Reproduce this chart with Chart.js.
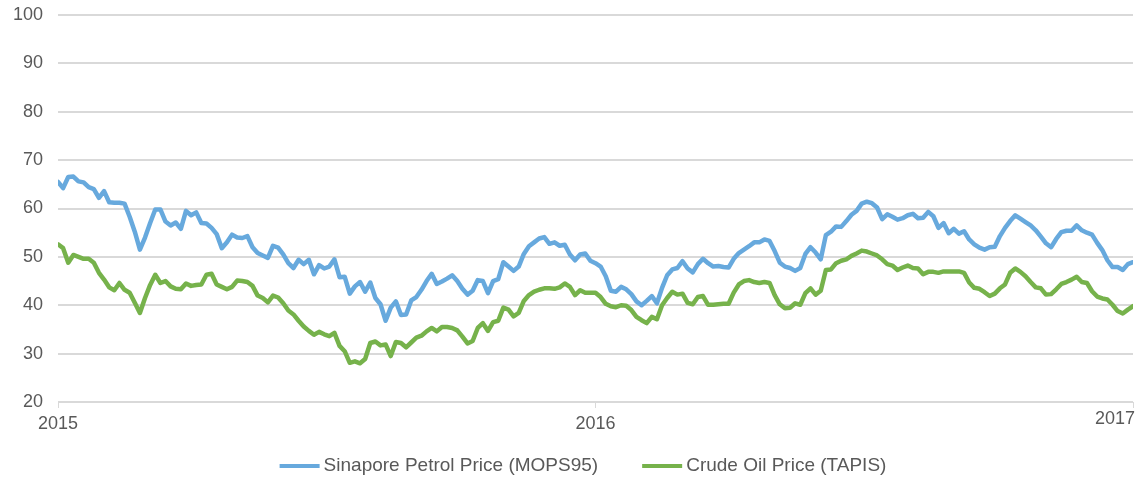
<!DOCTYPE html>
<html>
<head>
<meta charset="utf-8">
<script src="https://cdn.jsdelivr.net/npm/chart.js@4/dist/chart.umd.min.js"></script>
<style>
  html, body { margin: 0; padding: 0; background: #fff; }
  #wrap { width: 1137px; height: 483px; }
</style>
</head>
<body>
<div id="wrap"><canvas id="chart"></canvas></div>
<script>
// half-weekly readings, 2015-01 .. 2017-01 (105 steps per year)
var stepsPerYear = 105;
var yearTicks = [2015, 2016, 2017];
var yTicks = [20, 30, 40, 50, 60, 70, 80, 90, 100];

var petrolLabel = 'Sinapore Petrol Price (MOPS95)';
var crudeLabel = 'Crude Oil Price (TAPIS)';

var petrol = [
    65.5, 64.2, 66.5, 66.6, 65.6, 65.4, 64.4, 64.0, 62.2, 63.6,
    61.3, 61.2, 61.2, 61.0, 58.3, 55.2, 51.5, 54.0, 57.0, 59.8,
    59.8, 57.3, 56.5, 57.1, 55.8, 59.5, 58.6, 59.2, 57.0, 56.9,
    56.0, 54.7, 51.8, 53.0, 54.6, 54.0, 53.9, 54.3, 52.0, 50.8,
    50.3, 49.8, 52.3, 51.9, 50.5, 48.7, 47.7, 49.4, 48.5, 49.4,
    46.4, 48.3, 47.6, 48.0, 49.5, 45.8, 45.9, 42.4, 43.9, 44.8,
    42.8, 44.7, 41.5, 40.2, 36.8, 39.5, 40.8, 38.0, 38.1, 41.0,
    41.7, 43.2, 45.0, 46.5, 44.4, 44.9, 45.5, 46.2, 45.0, 43.4,
    42.2, 43.0, 45.2, 45.0, 42.5, 45.0, 45.4, 48.9, 48.0, 47.1,
    48.0, 50.6, 52.2, 53.0, 53.8, 54.1, 52.7, 53.0, 52.3, 52.5,
    50.5, 49.3, 50.5, 50.7, 49.2, 48.7, 48.0, 46.0, 43.0, 42.8,
    43.8, 43.3, 42.3, 40.8, 40.0, 40.9, 41.9, 40.4, 43.6, 46.2,
    47.4, 47.7, 49.1, 47.6, 46.8, 48.5, 49.6, 48.7, 48.0, 48.1,
    47.9, 47.8, 49.6, 50.8, 51.5, 52.2, 53.0, 53.0, 53.6, 53.3,
    51.2, 48.8, 48.0, 47.7, 47.1, 47.7, 50.6, 52.0, 50.9, 49.5,
    54.5, 55.2, 56.3, 56.2, 57.4, 58.7, 59.5, 61.0, 61.4, 61.1,
    60.2, 57.8, 58.8, 58.3, 57.7, 58.0, 58.6, 58.9, 58.0, 58.1,
    59.3, 58.4, 56.0, 57.0, 54.9, 55.8, 54.8, 55.3, 53.6, 52.6,
    51.9, 51.5, 52.0, 52.1, 54.3, 56.0, 57.4, 58.6, 57.9, 57.2,
    56.5, 55.5, 54.2, 52.8, 52.0, 53.7, 55.1, 55.4, 55.4, 56.5,
    55.5, 55.0, 54.6, 52.9, 51.4, 49.3, 47.9, 47.9, 47.3, 48.5,
    48.9
];

var crude = [
    52.6, 51.8, 48.8, 50.4, 50.0, 49.6, 49.6, 48.8, 46.7, 45.3,
    43.7, 43.1, 44.6, 43.2, 42.6, 40.5, 38.4, 41.5, 44.2, 46.3,
    44.6, 45.0, 43.9, 43.4, 43.3, 44.5, 44.0, 44.2, 44.3, 46.3,
    46.5, 44.3, 43.8, 43.3, 43.8, 45.1, 45.0, 44.8, 44.0, 42.0,
    41.5, 40.6, 42.0, 41.6, 40.4, 38.9, 38.1, 36.8, 35.6, 34.7,
    33.9, 34.5, 34.0, 33.6, 34.3, 31.6, 30.5, 28.1, 28.4, 28.0,
    28.9, 32.2, 32.5, 31.7, 31.9, 29.5, 32.4, 32.2, 31.3, 32.3,
    33.3, 33.7, 34.6, 35.3, 34.6, 35.5, 35.5, 35.3, 34.8, 33.5,
    32.1, 32.6, 35.3, 36.3, 34.7, 36.5, 36.8, 39.5, 39.1, 37.7,
    38.4, 40.9, 42.1, 42.8, 43.2, 43.5, 43.5, 43.4, 43.7, 44.5,
    43.8, 42.1, 43.1, 42.6, 42.6, 42.6, 41.7, 40.3, 39.8, 39.6,
    40.0, 39.9, 39.0, 37.6, 36.9, 36.3, 37.6, 37.1, 40.0, 41.5,
    42.8, 42.2, 42.4, 40.5, 40.2, 41.7, 41.9, 40.1, 40.1, 40.2,
    40.3, 40.3, 42.6, 44.3, 45.0, 45.2, 44.8, 44.6, 44.8, 44.6,
    42.1, 40.2, 39.4, 39.5, 40.4, 40.1, 42.5, 43.5, 42.2, 43.0,
    47.3, 47.4, 48.7, 49.2, 49.5, 50.2, 50.7, 51.3, 51.1, 50.7,
    50.3, 49.5, 48.5, 48.2, 47.3, 47.8, 48.2, 47.7, 47.6, 46.4,
    46.9, 46.9, 46.7, 47.0, 47.0, 47.0, 47.0, 46.7, 44.7, 43.6,
    43.4, 42.7, 41.9, 42.4, 43.5, 44.3, 46.7, 47.6, 46.9, 46.0,
    44.8, 43.7, 43.5, 42.2, 42.3, 43.3, 44.4, 44.8, 45.3, 45.9,
    44.8, 44.6, 42.9, 41.8, 41.4, 41.2, 40.1, 38.8, 38.3, 39.1,
    39.8
];

var petrolColor = '#67a9dd';
var crudeColor = '#76b24b';
var textColor = '#595959';
var gridColor = '#d9d9d9';
var fontFamily = "'Liberation Sans', Arial, sans-serif";

function toPoints(values) {
    return values.map(function (v, i) {
        return { x: yearTicks[0] + i / stepsPerYear, y: v };
    });
}

// x labels: Excel keeps the last one inside the plot edge
var xLabelsPlugin = {
    id: 'xLabels',
    afterDraw: function (chart) {
        var ctx = chart.ctx;
        var sx = chart.scales.x;
        ctx.save();
        ctx.font = '18px ' + fontFamily;
        ctx.fillStyle = textColor;
        ctx.textBaseline = 'middle';
        yearTicks.forEach(function (yr, i) {
            var px = sx.getPixelForValue(yr);
            var last = i === yearTicks.length - 1;
            ctx.textAlign = last ? 'right' : 'center';
            ctx.fillText(String(yr), last ? px + 2 : px, last ? 419 : 424);
        });
        ctx.restore();
    }
};

var legendPlugin = {
    id: 'lineLegend',
    afterDraw: function (chart) {
        var ctx = chart.ctx;
        var sw = 40, gap = 4, between = 44, y = 466;
        ctx.save();
        ctx.font = '19px ' + fontFamily;
        ctx.textBaseline = 'middle';
        ctx.textAlign = 'left';
        var items = chart.data.datasets.map(function (ds) {
            return { text: ds.label, color: ds.borderColor, w: ctx.measureText(ds.label).width };
        });
        var total = 0;
        items.forEach(function (it, i) { total += sw + gap + it.w + (i ? between : 0); });
        var x = 583 - total / 2;
        items.forEach(function (it) {
            ctx.strokeStyle = it.color;
            ctx.lineWidth = 4;
            ctx.beginPath();
            ctx.moveTo(x, y);
            ctx.lineTo(x + sw, y);
            ctx.stroke();
            ctx.fillStyle = textColor;
            ctx.fillText(it.text, x + sw + gap, y);
            x += sw + gap + it.w + between;
        });
        ctx.restore();
    }
};

new Chart(document.getElementById('chart'), {
    type: 'line',
    data: {
        datasets: [
            { label: petrolLabel, data: toPoints(petrol), borderColor: petrolColor, backgroundColor: petrolColor },
            { label: crudeLabel, data: toPoints(crude), borderColor: crudeColor, backgroundColor: crudeColor }
        ]
    },
    options: {
        responsive: true,
        maintainAspectRatio: false,
        animation: false,
        devicePixelRatio: 1,
        layout: { padding: { top: 15, right: 4, bottom: 81, left: 0 } },
        elements: {
            point: { radius: 0, hoverRadius: 0 },
            line: { borderWidth: 4.5, tension: 0, borderJoinStyle: 'round', borderCapStyle: 'round' }
        },
        plugins: {
            legend: { display: false },
            tooltip: { enabled: false }
        },
        scales: {
            x: {
                type: 'linear',
                min: yearTicks[0],
                max: yearTicks[yearTicks.length - 1],
                border: { display: false },
                grid: { drawOnChartArea: false, drawTicks: true, tickLength: 6, color: gridColor, lineWidth: 1 },
                ticks: { display: false, stepSize: 1 },
                afterFit: function (s) { s.height = 0; s.paddingLeft = 0; s.paddingRight = 0; }
            },
            y: {
                min: yTicks[0],
                max: yTicks[yTicks.length - 1],
                border: { display: false },
                grid: { color: gridColor, lineWidth: 2, drawTicks: false },
                ticks: {
                    stepSize: 10,
                    padding: 15,
                    color: textColor,
                    font: { family: fontFamily, size: 18 }
                },
                afterFit: function (s) { s.width = 58; s.paddingTop = 0; s.paddingBottom = 0; }
            }
        }
    },
    plugins: [xLabelsPlugin, legendPlugin]
});
</script>
</body>
</html>
